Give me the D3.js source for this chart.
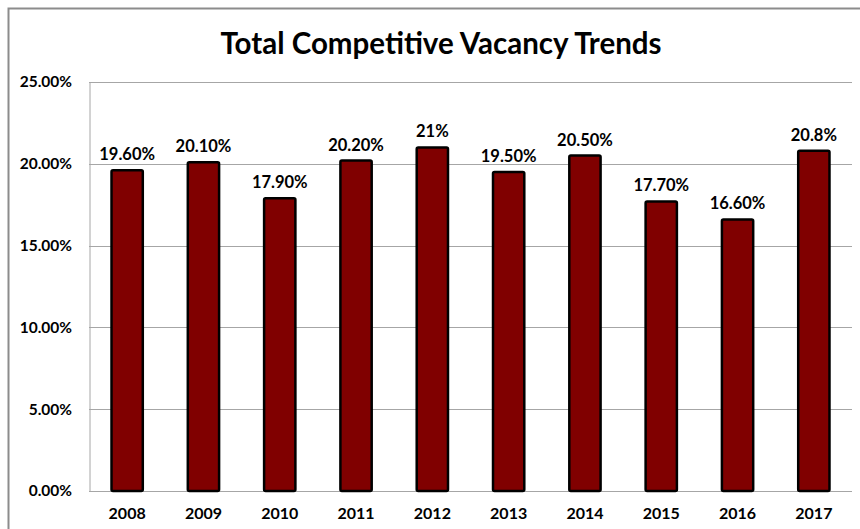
<!DOCTYPE html>
<html>
<head>
<meta charset="utf-8">
<script src="https://cdn.jsdelivr.net/npm/d3@7"></script>
<style>
  body { margin: 0; background: #fff; }
  text { font-family: Lato, "Open Sans", sans-serif; font-weight: bold; fill: #000; }
</style>
</head>
<body>
<div id="chart"></div>
<script>
// Data
const years = ["2008", "2009", "2010", "2011", "2012", "2013", "2014", "2015", "2016", "2017"];
const vacancy = [19.6, 20.1, 17.9, 20.2, 21.0, 19.5, 20.5, 17.7, 16.6, 20.8];
const valueLabels = ["19.60%", "20.10%", "17.90%", "20.20%", "21%", "19.50%", "20.50%", "17.70%", "16.60%", "20.8%"];
const yTicks = [0, 5, 10, 15, 20, 25];

const W = 860, H = 529;
const margin = { top: 82, right: 8, bottom: 38, left: 89 };
const width = W - margin.left - margin.right;
const height = H - margin.top - margin.bottom;

const svg = d3.select("#chart")
  .append("svg")
  .attr("width", W)
  .attr("height", H);

// Outer chart border
svg.append("rect")
  .attr("x", 8.5)
  .attr("y", 8.5)
  .attr("width", W + 10)
  .attr("height", H + 10)
  .attr("fill", "none")
  .attr("stroke", "#8c8c8c")
  .attr("stroke-width", 2);

svg.append("text")
  .attr("x", 441)
  .attr("y", 54)
  .attr("text-anchor", "middle")
  .style("font-size", "29.5px")
  .text("Total Competitive Vacancy Trends");

const g = svg.append("g")
  .attr("transform", `translate(${margin.left},${margin.top})`);

const x = d3.scaleBand()
  .domain(years)
  .range([0, width])
  .paddingInner(0.59)
  .paddingOuter(0.295);

const y = d3.scaleLinear()
  .domain([0, 25])
  .range([height, 0]);

// Gridlines
g.append("g")
  .selectAll("line")
  .data(yTicks)
  .enter().append("line")
  .attr("x1", 0)
  .attr("x2", width)
  .attr("y1", d => Math.round(y(d)) + 0.5)
  .attr("y2", d => Math.round(y(d)) + 0.5)
  .attr("stroke", "#a6a6a6")
  .attr("stroke-width", 1);

// Y axis
const yAxis = g.append("g")
  .call(d3.axisLeft(y).tickValues(yTicks).tickSize(0).tickPadding(17)
    .tickFormat(d => d.toFixed(2) + "%"));
yAxis.select(".domain").attr("stroke", "#a6a6a6").attr("transform", "translate(0.5,0)");
yAxis.selectAll("text").style("font-size", "15.5px").style("font-family", "Lato, sans-serif");

// X axis
const xAxis = g.append("g")
  .attr("transform", `translate(0,${height})`)
  .call(d3.axisBottom(x).tickSize(0).tickPadding(17));
xAxis.select(".domain").remove();
xAxis.selectAll("text").style("font-size", "16px").style("font-family", "Lato, sans-serif");

const data = years.map((yr, i) => ({ year: yr, value: vacancy[i], label: valueLabels[i] }));

// Bars
g.selectAll(".bar")
  .data(data)
  .enter().append("rect")
  .attr("class", "bar")
  .attr("x", d => x(d.year))
  .attr("width", x.bandwidth())
  .attr("y", d => y(d.value))
  .attr("height", d => height - y(d.value))
  .attr("rx", 1.5)
  .attr("fill", "#800000")
  .attr("stroke", "#000")
  .attr("stroke-width", 2.5);

// Value labels
g.selectAll(".val")
  .data(data)
  .enter().append("text")
  .attr("class", "val")
  .attr("x", d => x(d.year) + x.bandwidth() / 2)
  .attr("y", d => y(d.value) - 10)
  .attr("text-anchor", "middle")
  .style("font-size", "16.5px")
  .text(d => d.label);
</script>
</body>
</html>
